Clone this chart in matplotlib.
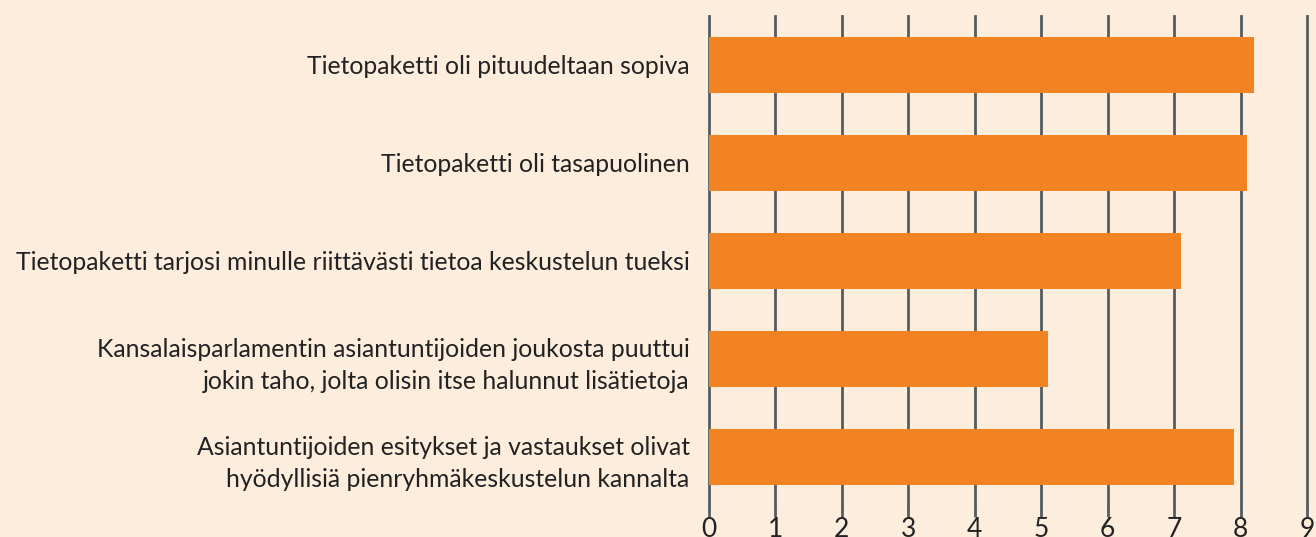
import matplotlib
matplotlib.use("Agg")
import matplotlib.pyplot as plt

# data
labels = [
    "Tietopaketti oli pituudeltaan sopiva",
    "Tietopaketti oli tasapuolinen",
    "Tietopaketti tarjosi minulle riittävästi tietoa keskustelun tueksi",
    "Kansalaisparlamentin asiantuntijoiden joukosta puuttui\njokin taho, jolta olisin itse halunnut lisätietoja",
    "Asiantuntijoiden esitykset ja vastaukset olivat\nhyödyllisiä pienryhmäkeskustelun kannalta",
]
values = [8.2, 8.1, 7.1, 5.1, 7.9]
xticks = list(range(0, 10))

BG = "#fdeddd"
BAR = "#f28322"
GRID = "#565b5e"

plt.rcParams["font.family"] = ["Lato", "DejaVu Sans"]

fig = plt.figure(figsize=(13.16, 5.37), dpi=100, facecolor=BG)
ax = fig.add_axes([709 / 1316, 1 - 506 / 537, 598 / 1316, 490 / 537])
ax.set_facecolor(BG)

ypos = list(range(len(labels)))
ax.barh(ypos, values, height=0.57, color=BAR, zorder=3)
ax.set_ylim(len(labels) - 0.5, -0.5)
ax.set_xlim(0, 9)

ax.set_xticks(xticks)
ax.set_xticklabels([str(t) for t in xticks], fontsize=19, color="#222222")
ax.set_yticks(ypos)
ax.set_yticklabels(labels, fontsize=17.8, color="#222222", linespacing=1.45)
ax.tick_params(axis="y", length=0, pad=14)
ax.tick_params(axis="x", length=8, width=2, color=GRID, pad=0)
ax.grid(axis="x", color=GRID, linewidth=2, zorder=1)
for gl in ax.get_xgridlines():
    gl.set_clip_on(False)
ax.set_axisbelow(True)
for s in ax.spines.values():
    s.set_visible(False)

fig.savefig("out.png", dpi=100, facecolor=BG)
